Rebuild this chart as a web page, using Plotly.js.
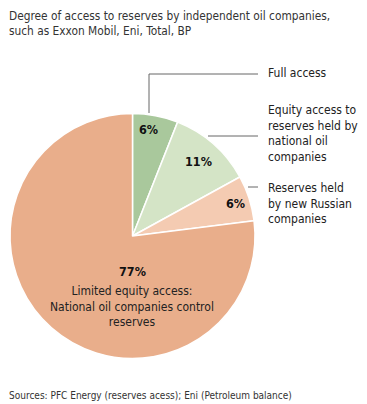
<!DOCTYPE html>
<html><head><meta charset="utf-8">
<script src="https://cdn.plot.ly/plotly-3.0.1.min.js"></script>
<style>html,body{margin:0;padding:0;background:#fff;}#chart{width:367px;height:404px;}</style>
</head><body><div id="chart"></div>
<script>
var categories = ["Full access", "Equity access to reserves held by national oil companies", "Reserves held by new Russian companies", "Limited equity access: National oil companies control reserves"];
var shares = [6, 11, 6, 77];
var colors = ["#a9c89c", "#d4e4c6", "#f4cbb2", "#e9ae8b"];
var FONT = "'DejaVu Sans Condensed', 'Liberation Sans Narrow', 'Roboto', sans-serif";

var trace = {
  type: "pie", values: shares, labels: categories, sort: false, direction: "clockwise", rotation: 0,
  marker: {colors: colors, line: {color: "#ffffff", width: 1.5}},
  textinfo: "none", hoverinfo: "label+percent", showlegend: false,
  domain: {x: [10/367, 255/367], y: [(404-359)/404, (404-113)/404]}
};

function px(x){return x/367;} function py(y){return 1 - y/404;}
var ann = [];
function txt(x, y, t, opts){
  opts = opts || {};
  ann.push({xref:"paper", yref:"paper", x:px(x), y:py(y), text:t, showarrow:false,
    xanchor: opts.xa || "center", yanchor:"middle", align: opts.align || "center",
    font:{family:FONT, size: opts.size || 12, color: opts.color || "#222"}});
}
txt(7, 23, "Degree of access to reserves by independent oil companies,<br>such as Exxon Mobil, Eni, Total, BP", {xa:"left", align:"left", size:11.8, color:"#333"});
txt(148, 129, "<b>" + shares[0] + "%</b>", {size:12.5, color:"#111"});
txt(198, 161, "<b>" + shares[1] + "%</b>", {size:12.5, color:"#111"});
txt(235, 203, "<b>" + shares[2] + "%</b>", {size:12.5, color:"#111"});
txt(132, 271, "<b>" + shares[3] + "%</b>", {size:12.5, color:"#111"});
txt(132, 306, "Limited equity access:<br>National oil companies control<br>reserves", {size:12, color:"#222"});
txt(266, 73, "Full access", {xa:"left", align:"left", size:12});
txt(266, 133, "Equity access to<br>reserves held by<br>national oil<br>companies", {xa:"left", align:"left", size:12});
txt(266, 203, "Reserves held<br>by new Russian<br>companies", {xa:"left", align:"left", size:12});
txt(7, 395, "Sources: PFC Energy (reserves acess); Eni (Petroleum balance)", {xa:"left", align:"left", size:10, color:"#333"});

var lc = {color:"#666", width:1};
var shapes = [
  {type:"line", xref:"paper", yref:"paper", x0:px(149), y0:py(113), x1:px(149), y1:py(74), line:lc},
  {type:"line", xref:"paper", yref:"paper", x0:px(149), y0:py(74), x1:px(258), y1:py(74), line:lc},
  {type:"line", xref:"paper", yref:"paper", x0:px(208), y0:py(136), x1:px(258), y1:py(136), line:lc},
  {type:"line", xref:"paper", yref:"paper", x0:px(248), y0:py(187), x1:px(258), y1:py(187), line:lc}
];

Plotly.newPlot("chart", [trace], {
  width:367, height:404, margin:{l:0,r:0,t:0,b:0},
  paper_bgcolor:"#fff", plot_bgcolor:"#fff",
  annotations: ann, shapes: shapes
}, {staticPlot:true, displayModeBar:false});
</script></body></html>
